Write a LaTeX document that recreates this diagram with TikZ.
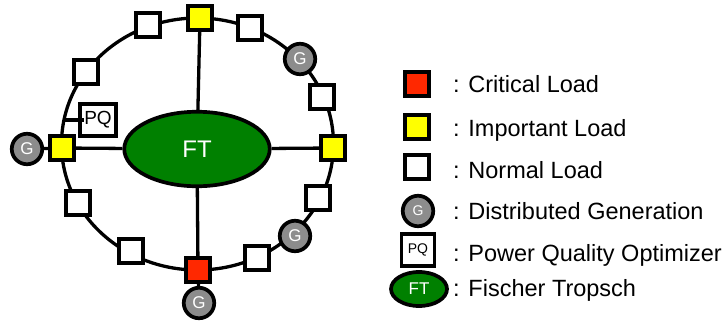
\documentclass[tikz,border=0pt]{standalone}
\usepackage{fontspec}
\setmainfont{Liberation Sans}
\usetikzlibrary{positioning, shapes.geometric}
\definecolor{critred}{RGB}{255,40,0}
\definecolor{impyellow}{RGB}{255,255,0}
\definecolor{ftgreen}{RGB}{0,128,0}
\definecolor{gengray}{RGB}{140,140,140}

\tikzset{
    wire/.style={line width=3.3pt},
    load/.style={draw, line width=3.7pt, rectangle, minimum size=23.5pt, inner sep=0pt},
    critical/.style={load, fill=critred},
    important/.style={load, fill=impyellow},
    normal/.style={load, fill=white},
    gen/.style={circle, draw, line width=3.7pt, fill=gengray, minimum size=30.5pt, inner sep=0pt,
        text=white, font=\fontsize{17}{17}\selectfont},
    pqbox/.style={rectangle, draw, line width=3.7pt, fill=white, minimum width=35.5pt,
        minimum height=31.5pt, inner sep=0pt, font=\fontsize{19}{19}\selectfont},
    ft/.style={ellipse, draw, line width=3.7pt, fill=ftgreen, text=white, inner sep=0pt,
        minimum width=145.5pt, minimum height=74.5pt, font=\fontsize{24}{24}\selectfont},
    legend/.style={anchor=west, inner sep=0pt, text height=17pt, text depth=0pt,
        font=\fontsize{23.5}{26}\selectfont}
}

\begin{document}
\begin{tikzpicture}[x=1pt, y=-1pt]
    \useasboundingbox (0,0) rectangle (728,322);

    % the ring bus
    \draw[wire] (197.5,144) ellipse [x radius=136pt, y radius=126pt];

    \node[ft] (ft) at (197,149) {FT};
    \node[important] (top) at (200,18) {};
    \node[important] (right) at (333,148) {};
    \node[important] (left) at (62,148) {};
    \node[critical] (bottom) at (198,270) {};

    \node[gen] (gbottom) at (199,303) {G};
    \node[gen] (gleft) at (27,149) {G};
    \node[gen] (gne) at (300,59) {G};
    \node[gen] (gse) at (295,236) {G};

    \foreach \x/\y [count=\i] in {148/25, 250/28, 322/97, 318/198, 257/258, 131/251, 78/203, 86/72}
        \node[normal] (n\i) at (\x,\y) {};

    \node[pqbox] (pq) at (98,120) {PQ};
    \coordinate (pqtap) at (64,120);

    % feeders
    \draw[wire] (ft) -- (top);
    \draw[wire] (ft) -- (bottom);
    \draw[wire] (ft) -- (left);
    \draw[wire] (ft) -- (right);
    \draw[wire] (bottom) -- (gbottom);
    \draw[wire] (gleft) -- (left);
    \draw[wire] (pqtap) -- ([xshift=6pt]pq.west);

    % legend
    \node[critical] (kcrit) at (417,84) {};
    \node[important] (kimp) at (417,127) {};
    \node[normal] (knorm) at (417,167) {};
    \node[gen, font=\fontsize{14}{14}\selectfont] (kgen) at (418,211) {G};
    \node[pqbox, minimum width=33pt, minimum height=32pt, font=\fontsize{14}{14}\selectfont] (kpq) at (418,250) {PQ};
    \node[ft, minimum width=56pt, minimum height=34pt, font=\fontsize{17}{17}\selectfont] (kft) at (419,289) {FT};

    \node[legend] (tcrit) at (453,84) {: Critical Load};
    \node[legend] (timp) at (453,128) {: Important Load};
    \node[legend] (tnorm) at (453,170) {: Normal Load};
    \node[legend] (tgen) at (453,211) {: Distributed Generation};
    \node[legend] (tpq) at (453,253) {: Power Quality Optimizer};
    \node[legend] (tft) at (453,288) {: Fischer Tropsch};
\end{tikzpicture}
\end{document}
